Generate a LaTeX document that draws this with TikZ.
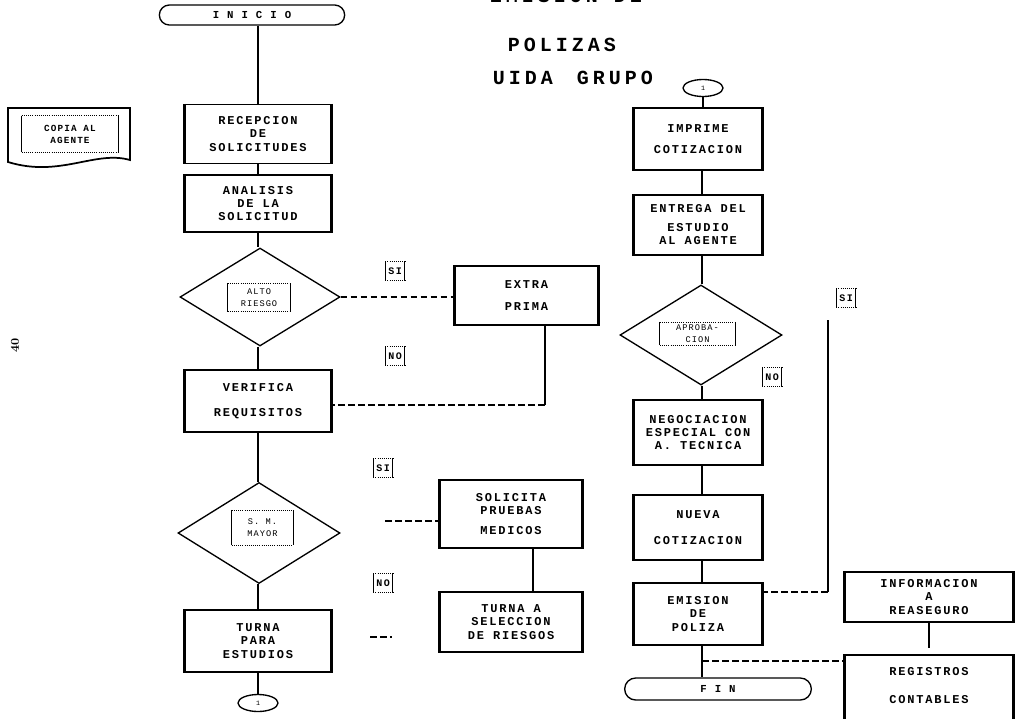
\documentclass[tikz,border=0pt]{standalone}
\usepackage{fontspec}
\usetikzlibrary{shapes.geometric,shapes.misc}
\newfontfamily\boxf[LetterSpace=15]{Liberation Mono}
\newfontfamily\titf[LetterSpace=20]{Liberation Mono}
\newfontfamily\lblf[LetterSpace=12]{Liberation Mono}
\begin{document}
\begin{tikzpicture}[x=0.75pt,y=-0.75pt,
  boxfont/.style={font=\boxf\bfseries\fontsize{9}{10}\selectfont},
  proc/.style={draw, line width=1.2pt, inner sep=0pt, align=center, boxfont},
  dec/.style={draw, diamond, line width=1pt, inner sep=0pt, minimum width=120pt, minimum height=74pt},
  term/.style={draw, rounded rectangle, line width=1pt, inner sep=0pt, minimum width=139pt, minimum height=15pt, font=\boxf\bfseries\fontsize{8}{9}\selectfont},
  conn/.style={draw, ellipse, line width=1pt, inner sep=0pt, minimum width=30pt, minimum height=12.75pt, font=\boxf\fontsize{5}{6}\selectfont},
  lbl/.style={inner sep=2pt, minimum height=14pt, font=\boxf\bfseries\fontsize{7.5}{8}\selectfont},
  inl/.style={inner sep=0pt, align=center, font=\lblf\fontsize{6.5}{8.5}\selectfont},
  conline/.style={line width=0.8pt},
  dashline/.style={line width=0.8pt, dash pattern=on 5pt off 2.5pt},
  brk/.style={line width=0.7pt},
  brkdot/.style={line width=0.6pt, densely dotted},
  sidebar/.style={line width=2pt}
]
\useasboundingbox (0,0) rectangle (1017,718);
\fill[white] (0,0) rectangle (1017,718);

% title
\node[font=\titf\bfseries\fontsize{15}{16}\selectfont] (t0) at (566,-4) {EMISION DE};
\node[font=\titf\bfseries\fontsize{15}{16}\selectfont] (t1) at (562,45) {POLIZAS};
\node[font=\titf\bfseries\fontsize{15}{16}\selectfont] (t2) at (573,78) {UIDA\hspace{1.2em}GRUPO};

% page number
\node[rotate=90, font=\bfseries\fontsize{9}{10}\selectfont] (pg) at (15,345) {40};

% document shape
\draw[line width=1.3pt] (8,108) -- (130,108) -- (130,160) .. controls (95,150) and (60,178) .. (8,162) -- cycle;
\node[inl, font=\lblf\bfseries\fontsize{7}{9}\selectfont, minimum width=72pt, minimum height=27pt] (doc) at (70,134) {COPIA AL\\AGENTE};

% left column
\node[term] (inicio) at (252,15) {I N I C I O};
\node[proc, minimum width=108.75pt, minimum height=44pt] (recep) at (258,134) {RECEPCION\\DE\\SOLICITUDES};
\node[proc, minimum width=108.75pt, minimum height=42.75pt] (anal) at (258,203.5) {ANALISIS\\DE LA\\SOLICITUD};
\node[dec, minimum height=73.5pt] (d1) at (260,297) {};
\node[inl, minimum width=46.5pt, minimum height=21pt] (d1t) at (259,297.5) {ALTO\\RIESGO};
\node[proc, minimum width=108.75pt, minimum height=46.5pt] (verif) at (258,401) {VERIFICA\\[9pt]REQUISITOS};
\node[dec, minimum width=121.5pt, minimum height=75.75pt] (d2) at (259,533) {};
\node[inl, minimum width=45.75pt, minimum height=26pt] (d2t) at (262.5,527.5) {S. M.\\MAYOR};
\node[proc, minimum width=108.75pt, minimum height=46.5pt] (turna) at (258,641) {TURNA\\PARA\\ESTUDIOS};
\node[conn] (c1) at (258,703) {1};

% middle column
\node[proc, minimum width=107.25pt, minimum height=44.25pt] (extra) at (526.5,295.5) {EXTRA\\[7pt]PRIMA};
\node[proc, minimum width=106.5pt, minimum height=51pt] (solic) at (511,514) {SOLICITA\\PRUEBAS\\[5pt]MEDICOS};
\node[proc, minimum width=106.5pt, minimum height=45pt] (turnaA) at (511,622) {TURNA A\\SELECCION\\DE RIESGOS};

% right column
\node[conn] (c2) at (703,88) {1};
\node[proc, minimum width=96pt, minimum height=46.5pt] (impr) at (698,139) {IMPRIME\\[6pt]COTIZACION};
\node[proc, minimum width=96pt, minimum height=45pt] (entrega) at (698,225) {ENTREGA DEL\\[4pt]ESTUDIO\\AL AGENTE};
\node[dec, minimum width=121.5pt, minimum height=75pt] (d3) at (701,335) {};
\node[inl, minimum width=56pt, minimum height=17pt] (d3t) at (697.5,333.5) {APROBA-\\CION};
\node[proc, minimum width=96pt, minimum height=48.75pt] (nego) at (698,432.5) {NEGOCIACION\\ESPECIAL CON\\A. TECNICA};
\node[proc, minimum width=96pt, minimum height=48.75pt] (nueva) at (698,527.5) {NUEVA\\[10pt]COTIZACION};
\node[proc, minimum width=96pt, minimum height=46.5pt] (emis) at (698,614) {EMISION\\DE\\POLIZA};
\node[term, minimum width=140pt, minimum height=16.5pt] (fin) at (718,689) {F I N};

% far right
\node[proc, minimum width=126pt, minimum height=37.5pt] (info) at (929,597) {INFORMACION\\A\\REASEGURO};
\node[proc, minimum width=126pt, minimum height=60pt] (regis) at (929,695) {};
\node[boxfont, align=center, inner sep=0pt] (regist) at (929,686) {REGISTROS\\[11pt]CONTABLES};

% thick vertical sides of the process boxes
\foreach \n in {recep,anal,verif,turna,extra,solic,turnaA,impr,entrega,nego,nueva,emis,info,regis}{
  \draw[sidebar] (\n.north west) -- (\n.south west) (\n.north east) -- (\n.south east);
}

% SI / NO labels
\node[lbl] (si1) at (395,271) {SI};
\node[lbl] (no1) at (395,356) {NO};
\node[lbl] (si2) at (383,468) {SI};
\node[lbl] (no2) at (383,583) {NO};
\node[lbl] (si3) at (846,298) {SI};
\node[lbl] (no3) at (772,377) {NO};

% bracket borders
\foreach \n in {si1,no1,si2,no2,si3,no3,d1t,d2t,d3t,doc}{
  \draw[brk] (\n.north west) -- (\n.south west) (\n.north east) -- (\n.south east);
  \draw[brkdot] (\n.north west) -- (\n.north east) (\n.south west) -- (\n.south east);
}

% connectors
\draw[conline] (inicio.south -| recep.north) -- (recep);
\draw[conline] (recep) -- (anal);
\draw[conline] (anal) -- (anal.south |- d1.north);
\draw[conline] (anal.south |- d1.south) -- (verif);
\draw[conline] (verif) -- (verif.south |- d2.north);
\draw[conline] (verif.south |- d2.south) -- (turna);
\draw[conline] (turna) -- (c1);
\draw[dashline] (d1.east) -- (d1.east -| extra.west);
\coordinate (e1) at (545,405);
\draw[conline] (extra.south -| e1) -- (e1);
\draw[dashline] (e1) -- (verif.east |- e1);
\coordinate (s2) at (385,521);
\draw[dashline] (s2) -- (s2 -| solic.west);
\coordinate (sv) at (533,0);
\draw[conline] (solic.south -| sv) -- (turnaA.north -| sv);
\coordinate (f1) at (370,637);
\coordinate (f2) at (392,637);
\draw[dashline] (f1) -- (f2);

\coordinate (rv) at (702,0);
\draw[conline] (c2) -- (impr.north -| c2);
\draw[conline] (impr.south -| rv) -- (entrega.north -| rv);
\draw[conline] (entrega.south -| rv) -- (d3.north -| rv);
\draw[conline] (d3.south -| rv) -- (nego.north -| rv);
\draw[conline] (nego.south -| rv) -- (nueva.north -| rv);
\draw[conline] (nueva.south -| rv) -- (emis.north -| rv);
\draw[conline] (emis.south -| rv) -- (fin.north -| rv);
\coordinate (g1) at (828,320);
\coordinate (g2) at (828,592);
\draw[conline] (g1) -- (g2);
\draw[dashline] (g2) -- (emis.east |- g2);
\coordinate (h1) at (702,661);
\draw[dashline] (h1) -- (regis.west |- h1);
\coordinate (k1) at (929,648);
\draw[conline] (info.south) -- (k1);
\end{tikzpicture}
\end{document}
